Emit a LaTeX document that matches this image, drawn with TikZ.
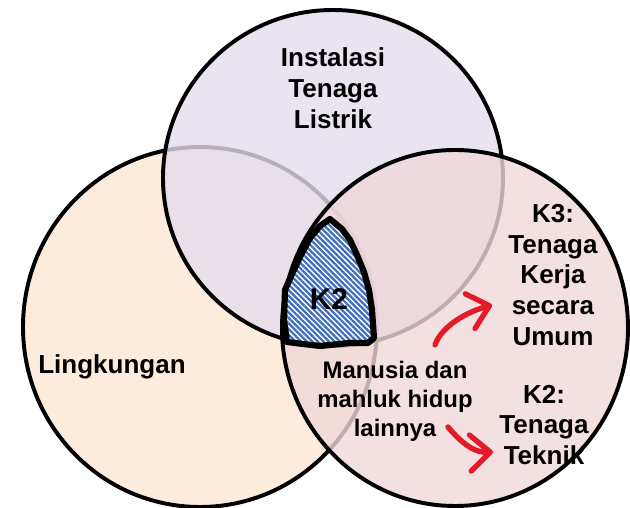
\documentclass[tikz,border=0pt]{standalone}
\usepackage{fontspec}
\setmainfont{Liberation Sans}
\usepackage{xcolor}
\usetikzlibrary{arrows.meta,patterns.meta}
\definecolor{leftfill}{RGB}{253,230,210}
\definecolor{topfill}{RGB}{227,221,236}
\definecolor{rightfill}{RGB}{240,216,218}
\definecolor{k2blue}{RGB}{62,110,190}
\definecolor{arrowred}{RGB}{228,26,42}
\tikzset{%
	venn/.style     = {draw=black, line width=2.8pt, fill opacity=0.8},
	bigtext/.style  = {font=\bfseries\fontsize{18.5}{22}\selectfont, align=center, inner sep=0pt},
	midtext/.style  = {font=\bfseries\fontsize{17}{20.6}\selectfont, align=center, inner sep=0pt},
	k2zone/.style   = {draw=black, line width=4.4pt, line join=round, preaction={fill=white}, pattern={Lines[angle=-45,distance=2.8pt,line width=1.6pt]}, pattern color=k2blue},
	redarrow/.style = {draw=arrowred, line width=3.8pt, line cap=round, -{Straight Barb[length=5mm,width=9mm,line cap=round,line join=round]}},
}

\begin{document}
\begin{tikzpicture}
		\useasboundingbox (0,0) rectangle (15.75,12.7);
		
		% the three sets
		\draw[venn, fill=leftfill] (5.0,4.525) ellipse (4.425 and 4.5);
		\draw[venn, fill=topfill] (8.325,8.25) ellipse (4.25 and 4.2);
		\draw[venn, fill=rightfill] (11.375,4.5) ellipse (4.325 and 4.45);
		
		% common part
		\draw[k2zone] (8.25,7.225) -- (8.55,6.975) -- (8.75,6.7) -- (8.925,6.325) -- (9.1,5.9) -- (9.225,5.45) -- (9.3,4.95) -- (9.35,4.25) -- (9.2,4.125) -- (8.75,4.125) -- (8.0,4.05) -- (7.575,4.1) -- (7.175,4.15) -- (7.1,4.7) -- (7.125,5.45) -- (7.3,5.85) -- (7.5,6.275) -- (7.75,6.75) -- (8.0,7.05) -- cycle;
		
		\node[bigtext] (listrik) at (8.325,10.5) {Instalasi\\Tenaga\\Listrik};
		\node[bigtext] (lingkungan) at (2.8,3.525) {Lingkungan};
		\node[font=\bfseries\fontsize{21.3}{25}\selectfont, inner sep=0pt] (k2) at (8.225,5.225) {K2};
		\node[bigtext] (k3umum) at (13.825,5.825) {K3:\\Tenaga\\Kerja\\secara\\Umum};
		\node[bigtext] (k2teknik) at (13.6,2.075) {K2:\\Tenaga\\Teknik};
		\node[midtext] (manusia) at (9.875,2.675) {Manusia dan\\mahluk hidup\\lainnya};
		
		\coordinate (upfrom) at (10.875,4.075);
		\coordinate (upto) at (12.3,5.075);
		\coordinate (downfrom) at (11.2,2.025);
		\coordinate (downto) at (12.325,1.4);
		\draw[redarrow] (upfrom) .. controls (11.0,4.45) and (11.5,4.85) .. (upto);
		\draw[redarrow] (downfrom) .. controls (11.6,1.55) and (11.9,1.38) .. (downto);
		
	\end{tikzpicture}
\end{document}
